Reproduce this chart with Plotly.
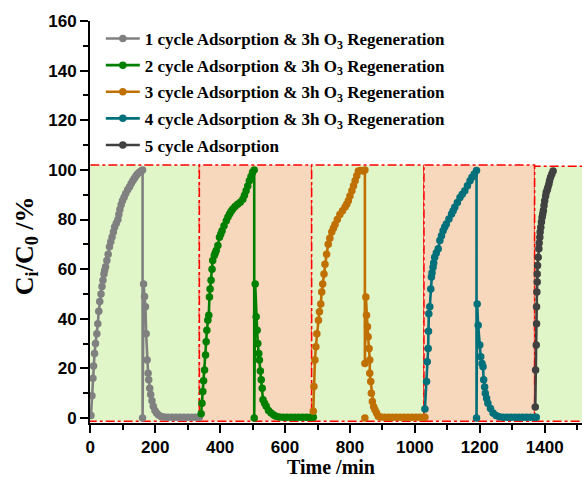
import plotly.graph_objects as go

# ---- breakthrough / regeneration data (time in min, Ci/C0 in %) ----
c1_t = [2, 5, 8, 10, 13, 16, 20, 23, 26, 29, 33, 36, 39, 42, 44, 47, 51, 55, 59, 63, 67, 71, 75, 80,
        85, 88, 91, 95, 99, 104, 109, 115, 121, 126, 131, 136, 141, 146, 152, 157, 161,
        161, 164, 167, 170, 172, 175, 178, 180, 183, 186, 190, 194, 199, 204, 210, 218, 228,
        240, 252, 264, 276, 288, 300, 312, 324, 336]
c1_y = [1, 9, 16, 21, 26, 30, 34, 38, 43, 47, 50, 53, 55.5, 58, 59.5, 61, 63.5, 66, 69, 71, 73, 75, 77, 78.5,
        80, 82, 84, 86, 87.6, 89, 90.5, 92, 93.2, 94.5, 95.6, 96.6, 97.6, 98.4, 99.1, 99.6, 100,
        0, 54, 49, 44.8, 34, 23.4, 18, 15.4, 12, 9.5, 7, 4.7, 3, 2, 1.2, 0.6, 0.4,
        0.3, 0.3, 0.3, 0.3, 0.3, 0.3, 0.3, 0.3, 0.3]

c2_t = [341.5, 344, 346.7, 349, 352, 355, 357, 359, 362, 365, 367, 369, 372, 375, 377, 382, 385, 388,
        393, 398, 402, 406, 412, 419, 424, 429, 434, 439, 446, 454, 462, 470, 475, 480, 485, 490, 495,
        500, 505,
        505, 508, 511, 514, 516, 519, 521, 524, 526.6, 529.7, 532, 537, 542, 549, 557, 565, 572, 582,
        594, 606, 618, 630, 642, 654, 666, 678, 687]
c2_y = [1.7, 6, 10.7, 15, 19.4, 25.4, 30.7, 35.4, 39.4, 41.4, 48.8, 52, 55.5, 60, 63.5, 65.5, 66.5, 67.5,
        69.5, 72.9, 74.2, 75.5, 77.5, 79.5, 81, 82.2, 83.3, 84.2, 85.2, 86.2, 87, 88.2, 89.8, 91.6, 93.5,
        95.6, 97.3, 99, 100,
        0, 54, 40.8, 35.4, 30, 26, 23.4, 19, 15.4, 12, 7.4, 6, 4.7, 3, 2, 1.2, 0.7, 0.4,
        0.3, 0.3, 0.3, 0.3, 0.3, 0.3, 0.3, 0.3, 0.3]

c3_t = [687, 689, 692, 695, 698, 703, 706, 710, 713, 716, 720, 723, 728, 733, 738, 744, 749, 754, 761,
        769, 777, 785, 790, 795, 800, 806, 811, 816, 821, 826, 833, 841, 846,
        846, 849, 851, 854, 856, 859, 861, 861, 864, 866, 869, 873, 877, 882, 887, 895,
        907, 919, 931, 943, 955, 967, 979, 991, 1003, 1015, 1027, 1031,
        None, 846]
c3_y = [2.7, 12.7, 23.4, 28.7, 34, 39.4, 42.8, 46, 50.8, 54, 58, 62, 66, 70, 72.5, 75, 76.5, 78, 80,
        82, 83.5, 85, 86.2, 87.6, 89.5, 91.6, 93.6, 95.6, 97.6, 99.6, 99.8, 99.6, 100,
        22, 48.8, 41.4, 36.8, 32.8, 28, 23.4, 18, 14.7, 10, 6.7, 4.5, 3.3, 2, 0.7, 0.4,
        0.3, 0.3, 0.3, 0.3, 0.3, 0.3, 0.3, 0.3, 0.3, 0.3, 0.3, 0.3,
        None, 0]

c4_t = [1031, 1036, 1038, 1041, 1042, 1043, 1046, 1049, 1051, 1053, 1056, 1058, 1061, 1066, 1072, 1077,
        1082, 1087, 1092, 1097, 1105, 1113, 1118, 1123, 1131, 1139, 1146, 1154, 1162, 1170, 1176, 1183,
        1190,
        1190, 1192, 1195, 1200, 1203, 1207, 1210, 1212, 1215, 1217, 1221, 1225, 1233, 1241, 1250, 1260,
        1272, 1284, 1296, 1308, 1320, 1332, 1344, 1356, 1368, 1374]
c4_y = [3.6, 14.7, 22.7, 28, 35, 42, 44.8, 52, 56.8, 58.5, 60.8, 62.5, 64.8, 66.5, 68.2, 71.5,
        73.5, 75.5, 77, 78.2, 80.2, 82.2, 83.5, 84.9, 86.9, 88.9, 90.2, 91.6, 93.6, 95.6, 97, 98.3,
        99.8,
        0, 46, 37.4, 29.4, 24.7, 22, 20.7, 15.4, 12.5, 10, 8, 6, 3.8, 2, 1, 0.5,
        0.3, 0.3, 0.3, 0.3, 0.3, 0.3, 0.3, 0.3, 0.3, 0.3]

c5_t = [1371, 1372, 1374, 1375, 1375, 1376, 1377, 1377, 1378, 1380, 1382, 1383, 1385, 1386, 1388, 1390,
        1392, 1394, 1396, 1398, 1400, 1403, 1405, 1408, 1410, 1413, 1415, 1418, 1422, 1426]
c5_y = [4.4, 19.4, 29.4, 38, 44.8, 50.8, 54.8, 58, 61.5, 64.8, 68.2, 70.5, 72.9, 75, 76.9, 79,
        80.9, 82.2, 83.6, 85.6, 87.6, 89.5, 91, 92, 93, 94.3, 95.6, 97, 98.3, 99.6]

series_names = [
    "1 cycle Adsorption & 3h O<sub>3</sub> Regeneration",
    "2 cycle Adsorption & 3h O<sub>3</sub> Regeneration",
    "3 cycle Adsorption & 3h O<sub>3</sub> Regeneration",
    "4 cycle Adsorption & 3h O<sub>3</sub> Regeneration",
    "5 cycle Adsorption",
]
series_colors = ["#808080", "#007F00", "#BF7000", "#00707A", "#404040"]

# stage windows (adsorption = green, regeneration = peach)
stage_edges = [-8, 336, 682, 1028, 1369, 1540]
stage_tops = [102, 102, 102, 102, 101.5]
stage_fills = ["#E0F6C8", "#F8D8BC", "#E0F6C8", "#F8D8BC", "#E0F6C8"]

fig = go.Figure()

for k, (t, y, name, col) in enumerate(zip([c1_t, c2_t, c3_t, c4_t, c5_t], [c1_y, c2_y, c3_y, c4_y, c5_y],
                                          series_names, series_colors)):
    fig.add_trace(go.Scatter(
        x=t, y=y, name=name, mode="lines+markers", legendgroup=f"cycle{k + 1}",
        line=dict(color=col, width=2.6),
        marker=dict(color=col, size=7.5),
        connectgaps=False,
    ))

for i in range(5):
    fig.add_shape(type="rect", xref="x", yref="y", layer="below",
                  x0=stage_edges[i], x1=stage_edges[i + 1], y0=-1.3, y1=stage_tops[i],
                  fillcolor=stage_fills[i],
                  line=dict(color="#FF0000", width=1.5, dash="dashdot"))

tick_font = dict(family="Liberation Sans", size=17, color="black", weight="bold")

fig.update_xaxes(
    range=[-1, 1515], showline=True, linecolor="black", linewidth=2,
    ticks="outside", ticklen=8, tickwidth=2, tickcolor="black",
    tick0=0, dtick=200, tickfont=tick_font, automargin=False,
    minor=dict(dtick=100, ticks="outside", ticklen=5, tickwidth=2, tickcolor="black"),
    showgrid=False, zeroline=False,
)
fig.update_yaxes(
    range=[-2, 160], showline=True, linecolor="black", linewidth=2,
    ticks="outside", ticklen=8, tickwidth=2, tickcolor="black",
    tick0=0, dtick=20, tickfont=tick_font, automargin=False,
    minor=dict(dtick=10, ticks="outside", ticklen=5, tickwidth=2, tickcolor="black"),
    showgrid=False, zeroline=False,
)

# axis titles
fig.add_annotation(
    text="Time /min",
    xref="paper", yref="paper", x=0.49, y=-0.11, xanchor="center", yanchor="middle",
    showarrow=False,
    font=dict(family="Liberation Serif", size=20, color="black", weight="bold"),
)
fig.add_annotation(
    text="C<sub>i</sub>/C<sub>0</sub> /%", textangle=-90,
    xref="paper", yref="paper", x=-0.13, y=0.44, xanchor="center", yanchor="middle",
    showarrow=False,
    font=dict(family="Liberation Serif", size=26, color="black", weight="bold"),
)

fig.update_layout(
    width=582, height=477,
    margin=dict(l=90, r=0, t=21, b=54, autoexpand=False),
    paper_bgcolor="white", plot_bgcolor="white",
    showlegend=True,
    legend=dict(x=0.022, y=1.0, xanchor="left", yanchor="top",
                bgcolor="rgba(0,0,0,0)", itemwidth=34,
                font=dict(family="Liberation Serif", size=17, color="black", weight="bold"),
                tracegroupgap=1.5),
)

fig.write_html("out.html")
